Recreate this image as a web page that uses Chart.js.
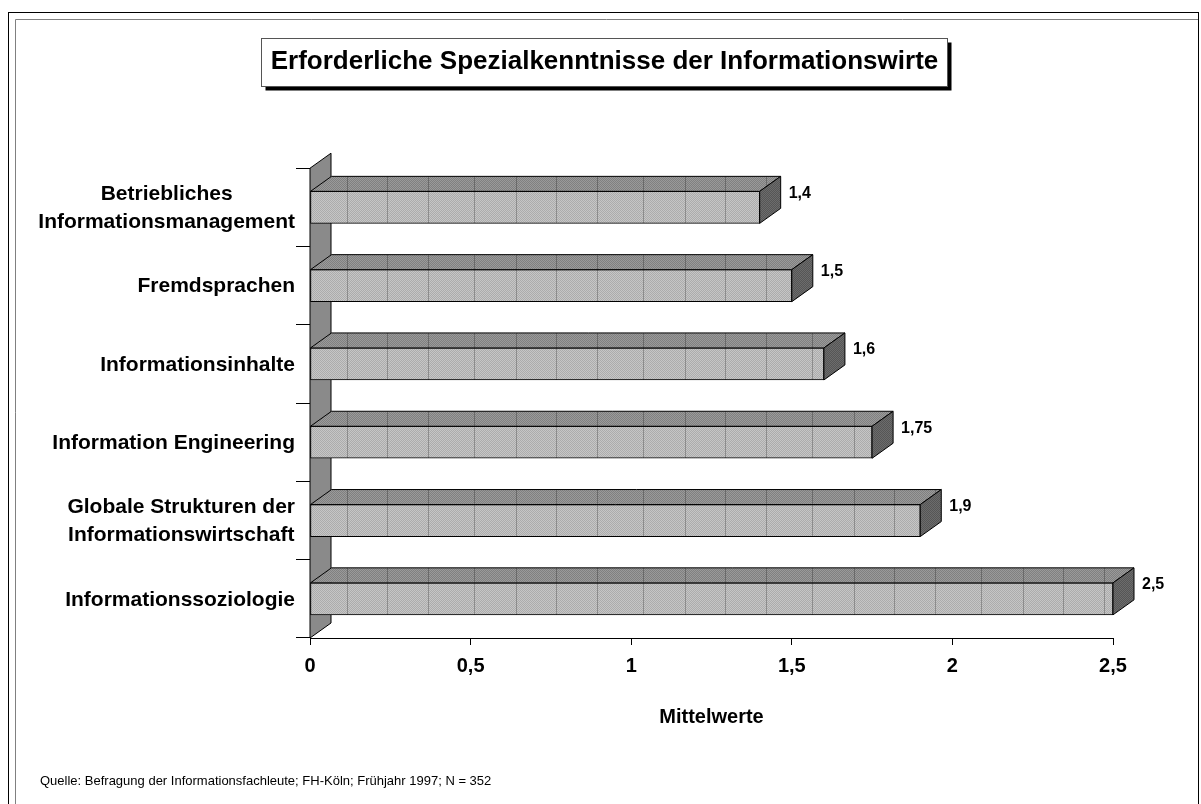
<!DOCTYPE html>
<html>
<head>
<meta charset="utf-8">
<script src="https://cdn.jsdelivr.net/npm/chart.js@4.4.1/dist/chart.umd.min.js"></script>
<style>
  html, body { margin: 0; padding: 0; background: #fff; }
  #wrap { width: 1201px; height: 804px; }
</style>
</head>
<body>
<div id="wrap"><canvas id="chart" width="1201" height="804"></canvas></div>
<script>
var categories = [
  ['Betriebliches', 'Informationsmanagement'],
  ['Fremdsprachen'],
  ['Informationsinhalte'],
  ['Information Engineering'],
  ['Globale Strukturen der', 'Informationswirtschaft'],
  ['Informationssoziologie']
];
var values = [1.4, 1.5, 1.6, 1.75, 1.9, 2.5];
var xTicks = [0, 0.5, 1, 1.5, 2, 2.5];
var titleText = 'Erforderliche Spezialkenntnisse der Informationswirte';
var axisTitle = 'Mittelwerte';
var sourceText = 'Quelle: Befragung der Informationsfachleute; FH-Köln; Frühjahr 1997; N = 352';

var FONT = "'Liberation Sans', Arial, Helvetica, sans-serif";
Chart.defaults.font.family = FONT;
Chart.defaults.color = '#000';

// depth of the 3d effect
var DX = 21, DY = -15;
var TITLE_SIZE = 26;

var ctx = document.getElementById('chart').getContext('2d');

function komma(v) {
  return String(v).replace('.', ',');
}

// dotted grey fill with the odd vertical streaks of the original pattern
function makePattern(c1, c2, line) {
  var p = document.createElement('canvas');
  p.width = 169; p.height = 2;
  var g = p.getContext('2d');
  for (var x = 0; x < 169; x++) {
    for (var y = 0; y < 2; y++) {
      g.fillStyle = ((x + y) % 2) ? c1 : c2;
      g.fillRect(x, y, 1, 1);
    }
  }
  if (line) {
    g.fillStyle = line;
    [0, 40, 81, 127].forEach(function (x) { g.fillRect(x, 0, 1, 2); });
  }
  var pat = ctx.createPattern(p, 'repeat');
  pat.setTransform(new DOMMatrix().translate(9, 0));
  return pat;
}

var frontFill = makePattern('#c6c6c6', '#acacac', '#8c8c8c');
var topFill = makePattern('#9a9a9a', '#808080', '#6a6a6a');
var sideFill = makePattern('#6c6c6c', '#565656', null);

function poly(c, pts, fill) {
  c.beginPath();
  c.moveTo(pts[0][0], pts[0][1]);
  for (var i = 1; i < pts.length; i++) c.lineTo(pts[i][0], pts[i][1]);
  c.closePath();
  c.fillStyle = fill;
  c.fill();
  c.lineWidth = 1;
  c.strokeStyle = '#000';
  c.stroke();
}

var bar3d = {
  id: 'bar3d',
  beforeDraw: function (chart) {
    var c = chart.ctx;
    c.save();
    // outer frame
    c.strokeStyle = '#000';
    c.lineWidth = 1;
    c.strokeRect(8.5, 12.5, 1190, 820);
    c.strokeStyle = '#808080';
    c.beginPath();
    c.moveTo(15.5, 830);
    c.lineTo(15.5, 19.5);
    c.lineTo(1198, 19.5);
    c.stroke();
    // box behind the title
    var tb = chart.titleBlock;
    c.font = 'bold ' + TITLE_SIZE + 'px ' + FONT;
    var w = c.measureText(titleText).width;
    var cx = (tb.left + tb.right) / 2;
    var cy = tb.top + 46 + TITLE_SIZE * 0.6;
    var bx = Math.round(cx - w / 2 - 10) + 0.5, by = Math.round(cy - 24) + 0.5;
    var bw = Math.round(w + 18), bh = 48;
    c.fillStyle = '#000';
    c.fillRect(bx + 4, by + 4, bw, bh);
    c.fillStyle = '#fff';
    c.fillRect(bx, by, bw, bh);
    c.strokeStyle = '#555';
    c.strokeRect(bx, by, bw, bh);
    c.restore();
  },
  beforeDatasetsDraw: function (chart) {
    var a = chart.chartArea;
    var c = chart.ctx;
    c.save();
    poly(c, [[a.left, a.top], [a.left + DX, a.top + DY], [a.left + DX, a.bottom + DY], [a.left, a.bottom]], '#8a8a8a');
    c.restore();
  },
  afterDatasetsDraw: function (chart) {
    var c = chart.ctx;
    var meta = chart.getDatasetMeta(0);
    c.save();
    meta.data.forEach(function (bar, i) {
      var p = bar.getProps(['x', 'y', 'base', 'height'], true);
      var top = p.y - p.height / 2, bottom = p.y + p.height / 2;
      poly(c, [[p.base, top], [p.x, top], [p.x + DX, top + DY], [p.base + DX, top + DY]], topFill);
      poly(c, [[p.x, top], [p.x + DX, top + DY], [p.x + DX, bottom + DY], [p.x, bottom]], sideFill);
      c.fillStyle = '#000';
      c.font = 'bold 16px ' + FONT;
      c.textAlign = 'left';
      c.textBaseline = 'middle';
      c.fillText(komma(values[i]), p.x + DX + 8, top + 2);
    });
    c.restore();
  },
  afterDraw: function (chart) {
    var c = chart.ctx;
    var ys = chart.scales.y;
    c.save();
    c.fillStyle = '#000';
    c.font = 'bold 21px ' + FONT;
    c.textAlign = 'center';
    c.textBaseline = 'middle';
    categories.forEach(function (lines, i) {
      var y = ys.getPixelForValue(i) + 1;
      var bw = 0;
      lines.forEach(function (s) { bw = Math.max(bw, c.measureText(s).width); });
      var cx = 295 - bw / 2;
      lines.forEach(function (s, j) {
        c.fillText(s, cx, y + (j - (lines.length - 1) / 2) * 28);
      });
    });
    c.font = '13px ' + FONT;
    c.textAlign = 'left';
    c.fillText(sourceText, 40, 781);
    c.restore();
  }
};

new Chart(ctx, {
  type: 'bar',
  data: {
    labels: categories,
    datasets: [{
      data: values,
      backgroundColor: frontFill,
      borderColor: '#000',
      borderWidth: 1,
      borderSkipped: false,
      barThickness: 32
    }]
  },
  options: {
    responsive: false,
    animation: false,
    indexAxis: 'y',
    layout: { padding: { left: 8, right: 0, top: 0, bottom: 0 } },
    plugins: {
      legend: { display: false },
      tooltip: { enabled: false },
      title: {
        display: true,
        text: titleText,
        color: '#000',
        font: { size: TITLE_SIZE, weight: 'bold', lineHeight: 1.2 },
        padding: { top: 46, bottom: 168 - 46 - Math.round(TITLE_SIZE * 1.2) }
      }
    },
    scales: {
      x: {
        type: 'linear',
        min: 0,
        max: 2.5,
        afterBuildTicks: function (s) {
          s.ticks = xTicks.map(function (v) { return { value: v }; });
        },
        ticks: {
          color: '#000',
          font: { size: 20, weight: 'bold' },
          padding: 9,
          maxRotation: 0,
          callback: function (v) { return komma(v); }
        },
        grid: { drawOnChartArea: false, tickLength: 7, color: '#000' },
        border: { color: '#000' },
        title: {
          display: true,
          text: axisTitle,
          color: '#000',
          font: { size: 20, weight: 'bold' },
          padding: { top: 0, bottom: 75 }
        },
        afterFit: function (s) { s.height = 166; }
      },
      y: {
        type: 'category',
        ticks: { display: false },
        grid: { offset: true, drawOnChartArea: false, tickLength: 14, color: '#000' },
        border: { color: '#000' },
        afterFit: function (s) { s.width = 302; }
      },
      yRight: {
        type: 'linear',
        position: 'right',
        ticks: { display: false },
        grid: { display: false },
        border: { display: false },
        afterFit: function (s) { s.width = 88; }
      }
    }
  },
  plugins: [bar3d]
});
</script>
</body>
</html>
